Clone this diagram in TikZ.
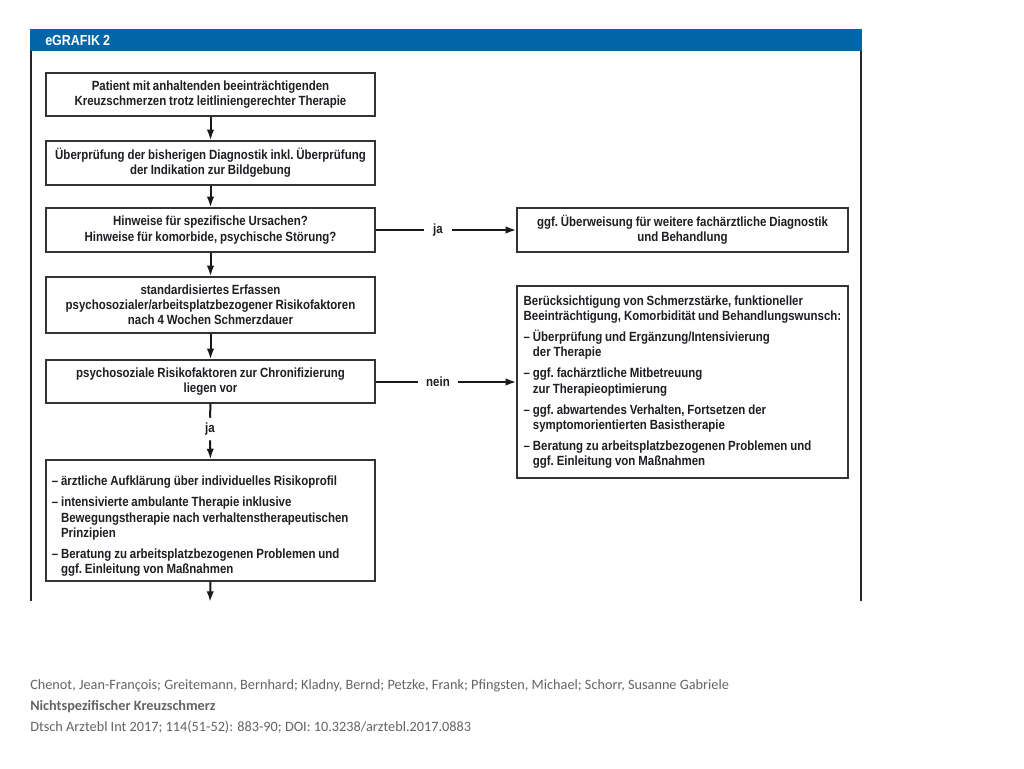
\documentclass[tikz,border=0pt]{standalone}
\usepackage{fontspec}
\usetikzlibrary{arrows.meta}
\newfontfamily\dfont[FakeStretch=0.86,WordSpace=0.9]{Liberation Sans}
\newfontfamily\cfont{Carlito}
\definecolor{hblue}{RGB}{0,102,168}
\definecolor{txt}{RGB}{30,30,35}
\definecolor{cite}{RGB}{100,100,100}
\newcommand\litem[1]{\par\setbox0\hbox{–\ }\hangindent=\wd0\hangafter=1\noindent\box0 #1}
\newcommand\listsetup{\raggedright\spaceskip=0pt\xspaceskip=0pt\setlength{\parskip}{4.5pt}}
\begin{document}
\begin{tikzpicture}[x=0.75pt,y=-0.75pt,
  base/.style={font=\dfont\bfseries\fontsize{10}{11.4}\selectfont\frenchspacing, text=txt},
  box/.style={base, draw=black!80, line width=0.9pt, fill=white, inner sep=0pt, align=center},
  lbox/.style={box, minimum width=246.75pt},
  rbox/.style={box, minimum width=248.25pt},
  listbox/.style={base, draw=black!80, line width=0.9pt, fill=white, inner ysep=0pt},
  flow/.style={line width=1.5pt, black!90},
  arr/.style={flow, -{Latex[length=8pt,width=5.5pt]}},
  lab/.style={base, inner sep=0pt},
  citetext/.style={font=\cfont\fontsize{10.7}{12}\selectfont, text=cite, anchor=west, inner sep=0pt}]
\useasboundingbox (0,0) rectangle (1024,768);
\fill[white] (0,0) rectangle (1024,768);
% header and frame
\fill[hblue] (30,29) rectangle (862,51);
\node[anchor=west, inner sep=0pt, text=white, font=\dfont\bfseries\fontsize{10.9}{12}\selectfont] (head) at (45,40.5) {eGRAFIK 2};
\draw[line width=1.1pt, black!85] (31,51) -- (31,601);
\draw[line width=1.1pt, black!85] (861,51) -- (861,601);
% left column
\node[lbox, minimum height=32.25pt] (b1) at (210.5,94.5) {Patient mit anhaltenden beeinträchtigenden\\Kreuzschmerzen trotz leitliniengerechter Therapie};
\node[lbox, minimum height=33pt] (b2) at (210.5,163) {Überprüfung der bisherigen Diagnostik inkl. Überprüfung\\der Indikation zur Bildgebung};
\node[lbox, minimum height=33pt] (b3) at (210.5,230) {Hinweise für spezifische Ursachen?\\Hinweise für komorbide, psychische Störung?};
\node[lbox, minimum height=42pt] (b4) at (210.5,305) {standardisiertes Erfassen\\psychosozialer/arbeitsplatzbezogener Risikofaktoren\\nach 4 Wochen Schmerzdauer};
\node[lbox, minimum height=32.25pt] (b5) at (210.5,381.5) {psychosoziale Risikofaktoren zur Chronifizierung\\liegen vor};
\node[listbox, minimum height=90.75pt, text width=238pt, inner xsep=4.375pt] (b6) at (210.5,520.5) {%
\listsetup
\litem{ärztliche Aufklärung über individuelles Risikoprofil}
\litem{intensivierte ambulante Therapie inklusive\newline Bewegungstherapie nach verhaltenstherapeutischen\newline Prinzipien}
\litem{Beratung zu arbeitsplatzbezogenen Problemen und\newline ggf. Einleitung von Maßnahmen}\par};
% right column
\node[rbox, minimum height=33pt] (ra) at (682.5,230) {ggf. Überweisung für weitere fachärztliche Diagnostik\\und Behandlung};
\node[listbox, minimum height=144pt, text width=238.25pt, inner xsep=5pt] (rb) at (682.5,382) {%
\listsetup
\noindent Berücksichtigung von Schmerzstärke, funktioneller\newline Beeinträchtigung, Komorbidität und Behandlungswunsch:
\litem{Überprüfung und Ergänzung/Intensivierung\newline der Therapie}
\litem{ggf. fachärztliche Mitbetreuung\newline zur Therapieoptimierung}
\litem{ggf. abwartendes Verhalten, Fortsetzen der\newline symptomorientierten Basistherapie}
\litem{Beratung zu arbeitsplatzbezogenen Problemen und\newline ggf. Einleitung von Maßnahmen}\par};
% labels
\node[lab, minimum width=21pt] (ja1) at (438,230) {ja};
\node[lab, minimum width=30pt] (nein) at (438,382) {nein};
\node[lab, minimum height=16.5pt] (ja2) at (210,429) {ja};
\coordinate (end) at (210,602);
% connectors
\draw[arr] (b1.south) -- (b2.north);
\draw[arr] (b2.south) -- (b3.north);
\draw[arr] (b3.south) -- (b4.north);
\draw[arr] (b4.south) -- (b5.north);
\draw[flow] (b5.south) -- (ja2.north);
\draw[arr] (ja2.south) -- (b6.north);
\draw[arr] (b6.south) -- (end);
\draw[flow] (b3.east) -- (ja1.west);
\draw[arr] (ja1.east) -- (ra.west);
\draw[flow] (b5.east |- nein) -- (nein.west);
\draw[arr] (nein.east) -- (rb.west |- nein);
% citation
\node[citetext] (c1) at (30,686) {Chenot, Jean-François; Greitemann, Bernhard; Kladny, Bernd; Petzke, Frank; Pfingsten, Michael; Schorr, Susanne Gabriele};
\node[citetext, font=\cfont\bfseries\fontsize{10.7}{12}\selectfont] (c2) at (30,706.5) {Nichtspezifischer Kreuzschmerz};
\node[citetext] (c3) at (30,727) {Dtsch Arztebl Int 2017; 114(51-52): 883-90; DOI: 10.3238/arztebl.2017.0883};
\end{tikzpicture}
\end{document}
